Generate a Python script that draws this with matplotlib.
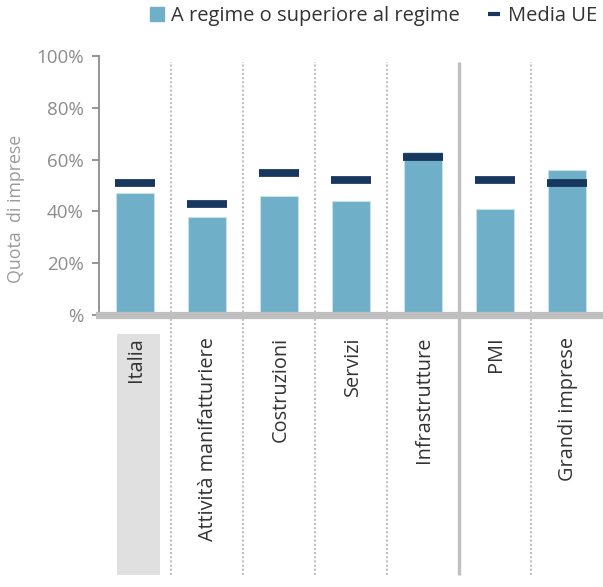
import matplotlib
matplotlib.use("Agg")
import matplotlib.pyplot as plt
from matplotlib.lines import Line2D
from matplotlib.patches import Rectangle

plt.rcParams['font.family'] = ['Open Sans', 'DejaVu Sans']

categories = ["Italia", "Attività manifatturiere", "Costruzioni", "Servizi",
              "Infrastrutture", "PMI", "Grandi imprese"]
a_regime = [47, 38, 46, 44, 63, 41, 56]
media_ue = [51, 43, 55, 52, 61, 52, 51]
y_ticks = [0, 20, 40, 60, 80, 100]
y_tick_labels = ["%", "20%", "40%", "60%", "80%", "100%"]
legend_labels = ["A regime o superiore al regime", "Media UE"]
y_label = "Quota  di imprese"

bar_color = "#70AFC8"
mark_color = "#17375E"
grid_gray = "#BFBFBF"
tick_gray = "#8C8C8C"
text_dark = "#333333"

W, H = 603, 587
fig = plt.figure(figsize=(W / 100, H / 100), dpi=100)
ax = fig.add_axes([99 / W, (H - 315) / H, (W - 99) / W, 259 / H])

x = list(range(len(categories)))
ax.set_xlim(-0.5, len(categories) - 0.5)
ax.set_ylim(0, 100)

ax.bar(x, a_regime, width=0.53, color=bar_color, edgecolor="#C8E2EC",
       linewidth=0.8, zorder=3)
ax.hlines(media_ue, [i - 0.28 for i in x], [i + 0.28 for i in x],
          colors=mark_color, linewidth=5.6, capstyle="butt", zorder=4)

# separators between categories; thick one between sectors and size groups
for i in range(len(categories) - 1):
    xs = i + 0.5
    if i == 4:
        ax.plot([xs, xs], [-100.5, 97.7], color=grid_gray, lw=2.4,
                clip_on=False, zorder=2, solid_capstyle="butt")
    else:
        ax.plot([xs, xs], [-100.5, 97.7], color=grid_gray, lw=1.5,
                ls=(0, (1.0, 1.0)), clip_on=False, zorder=2)

# highlight behind the Italia label
ax.add_patch(Rectangle((-0.25, -100.4), 0.6, 93.1, facecolor="#E0E0E0",
                       edgecolor="none", clip_on=False, zorder=0))

for i, lab in enumerate(categories):
    ax.text(i + 0.02, -8.4, lab, rotation=90, ha="center", va="top",
            fontsize=14.3, color=text_dark, zorder=5)

# axes styling
for s in ["top", "right"]:
    ax.spines[s].set_visible(False)
ax.spines["left"].set_color("#8C8C8C")
ax.spines["left"].set_linewidth(1.3)
ax.spines["bottom"].set_visible(False)
ax.axhline(0, color=grid_gray, lw=5.2, zorder=3, clip_on=False)

ax.set_xticks([])
ax.set_yticks(y_ticks)
ax.set_yticklabels(y_tick_labels)
ax.tick_params(axis="y", colors="#8C8C8C", labelcolor=tick_gray,
               labelsize=13.5, length=5, width=1.3, pad=6)
ax.set_ylabel(y_label, color="#9A9A9A", fontsize=12.8)
ax.yaxis.set_label_coords(-0.147, 0.41)

handles = [
    Line2D([], [], marker="s", ls="", ms=10, color=bar_color),
    Line2D([], [], marker="_", ls="", ms=8, mew=3, color=mark_color),
]
fig.legend(handles, legend_labels, loc="upper right",
           bbox_to_anchor=(1.021, 1.02), ncol=2, frameon=False,
           fontsize=14.5, handlelength=0.6, handletextpad=0.4,
           columnspacing=1.4, labelcolor=text_dark)

fig.savefig("out.png", dpi=100)
